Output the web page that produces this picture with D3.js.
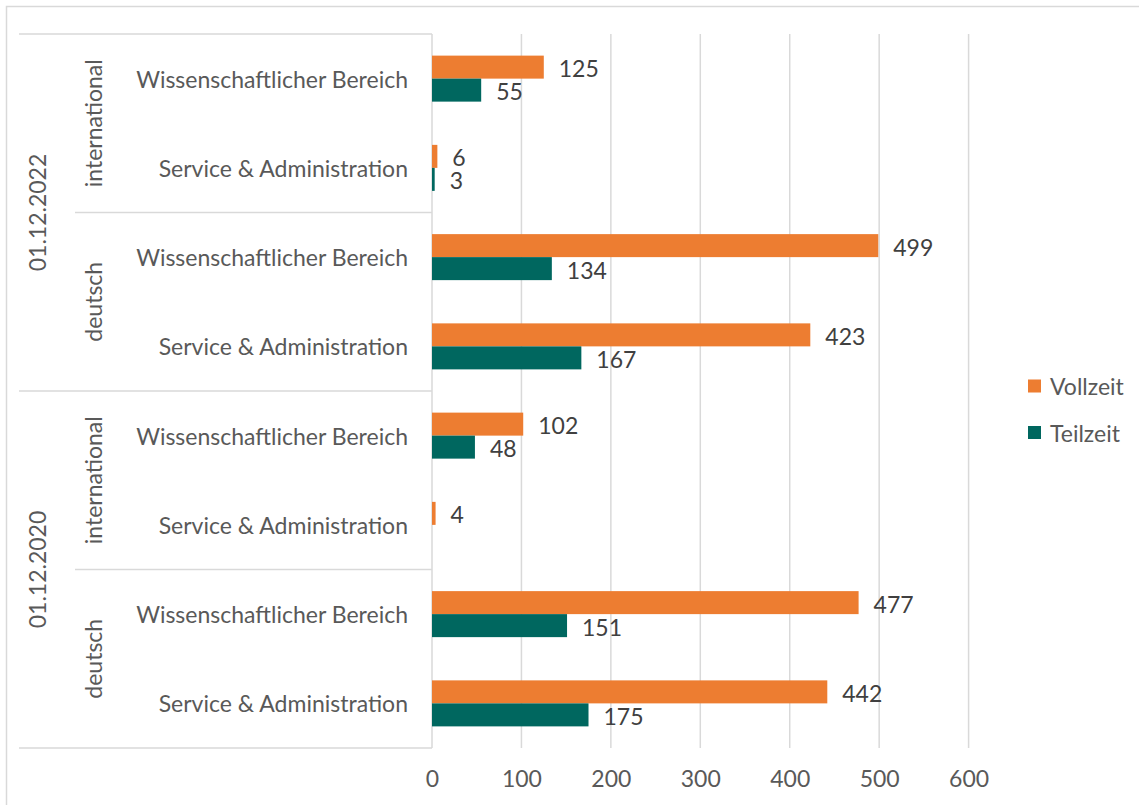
<!DOCTYPE html>
<html>
<head>
<meta charset="utf-8">
<script src="https://cdn.jsdelivr.net/npm/d3@7"></script>
<style>
  body { margin: 0; background: #fff; }
  text { font-family: Lato, "Noto Sans", sans-serif; }
</style>
</head>
<body>
<div id="chart"></div>
<script>
// data, top row first
var dates = ["01.12.2022", "01.12.2020"];
var origins = ["international", "deutsch"];
var areas = ["Wissenschaftlicher Bereich", "Service & Administration"];
var series = ["Vollzeit", "Teilzeit"];
var vollzeit = [125, 6, 499, 423, 102, 4, 477, 442];
var teilzeit = [55, 3, 134, 167, 48, null, 151, 175];
var xTicks = [0, 100, 200, 300, 400, 500, 600];

var width = 1139;
var height = 805;
var colors = {Vollzeit: "#ED7D31", Teilzeit: "#00675F"};
var grid = "#D9D9D9";
var labelColor = "#595959";
var fontSize = "23px";

// build rows: date > origin > area
var rows = [];
dates.forEach(function (d) {
    origins.forEach(function (o) {
        areas.forEach(function (a) {
            var i = rows.length;
            rows.push({id: i, date: d, origin: o, area: a, Vollzeit: vollzeit[i], Teilzeit: teilzeit[i]});
        });
    });
});

var svg = d3.select("#chart").
append("svg").
attr("width", width).
attr("height", height);

// chart border (only top and left are inside the picture)
svg.append("path").
attr("d", "M6.5," + height + "V6.5H" + width).
attr("fill", "none").
attr("stroke", grid).
attr("stroke-width", 1.5);

var x = d3.scaleLinear().domain([0, 600]).range([432, 968.6]);
var y = d3.scaleBand().domain(rows.map(function (r) {return r.id;})).range([34, 748]);
var ySub = d3.scaleBand().domain(series).range([0, y.bandwidth()]).paddingOuter(0.94);

// vertical gridlines
svg.append("g").
selectAll("line").
data(xTicks).
enter().
append("line").
attr("x1", function (d) {return x(d);}).
attr("x2", function (d) {return x(d);}).
attr("y1", 34).
attr("y2", 748).
attr("stroke", grid).
attr("stroke-width", 1.5);

// x axis labels
var xAxis = svg.append("g").
attr("transform", "translate(0,748)").
call(d3.axisBottom(x).tickValues(xTicks).tickSize(0).tickPadding(23));
xAxis.select(".domain").remove();
xAxis.selectAll("text").
attr("fill", labelColor).
style("font-size", fontSize).
style("font-family", "Lato, sans-serif");

// category separators
var groupEdges = [];
var step = y.step();
for (var i = 0; i <= rows.length; i += 2) {
    var yy = 34 + i * step;
    var isDateEdge = i % 4 === 0;
    groupEdges.push({y: yy, x0: isDateEdge ? 19 : 75});
}
svg.append("g").
selectAll("line").
data(groupEdges).
enter().
append("line").
attr("x1", function (d) {return d.x0;}).
attr("x2", 432).
attr("y1", function (d) {return d.y;}).
attr("y2", function (d) {return d.y;}).
attr("stroke", grid).
attr("stroke-width", 1.5);

// bars
var rowG = svg.append("g").
selectAll("g").
data(rows).
enter().
append("g").
attr("transform", function (r) {return "translate(0," + y(r.id) + ")";});

var barData = function (r) {
    return series.filter(function (s) {return r[s] != null;}).
    map(function (s) {return {key: s, value: r[s]};});
};

rowG.selectAll("rect").
data(barData).
enter().
append("rect").
attr("x", x(0)).
attr("y", function (d) {return ySub(d.key);}).
attr("width", function (d) {return x(d.value) - x(0);}).
attr("height", ySub.bandwidth()).
attr("fill", function (d) {return colors[d.key];});

rowG.selectAll("text.value").
data(barData).
enter().
append("text").
attr("class", "value").
attr("x", function (d) {return x(d.value) + 15;}).
attr("y", function (d) {return ySub(d.key) + ySub.bandwidth() / 2 + 1;}).
attr("dominant-baseline", "central").
attr("fill", "#404040").
style("font-size", fontSize).
text(function (d) {return d.value;});

// area labels
rowG.append("text").
attr("x", 408).
attr("y", y.bandwidth() / 2).
attr("text-anchor", "end").
attr("dominant-baseline", "central").
attr("fill", labelColor).
style("font-size", fontSize).
text(function (r) {return r.area;});

// origin labels (rotated)
var originGroups = [];
for (var j = 0; j < rows.length; j += 2) {
    originGroups.push({name: rows[j].origin, yc: 34 + (j + 1) * step});
}
svg.append("g").
selectAll("text").
data(originGroups).
enter().
append("text").
attr("transform", function (d) {return "translate(93," + d.yc + ") rotate(-90)";}).
attr("text-anchor", "middle").
attr("dominant-baseline", "central").
attr("fill", labelColor).
style("font-size", fontSize).
text(function (d) {return d.name;});

// date labels (rotated)
var dateGroups = dates.map(function (d, k) {return {name: d, yc: 34 + (k * 4 + 2) * step};});
svg.append("g").
selectAll("text").
data(dateGroups).
enter().
append("text").
attr("transform", function (d) {return "translate(37," + d.yc + ") rotate(-90)";}).
attr("text-anchor", "middle").
attr("dominant-baseline", "central").
attr("fill", labelColor).
style("font-size", fontSize).
text(function (d) {return d.name;});

// legend
var legend = svg.append("g").
selectAll("g").
data(series).
enter().
append("g").
attr("transform", function (d, k) {return "translate(1028," + (386 + k * 46.5) + ")";});

legend.append("rect").
attr("x", 0).
attr("y", -6.5).
attr("width", 13).
attr("height", 13).
attr("fill", function (d) {return colors[d];});

legend.append("text").
attr("x", 22).
attr("y", 0).
attr("dominant-baseline", "central").
attr("fill", labelColor).
style("font-size", fontSize).
text(function (d) {return d;});
</script>
</body>
</html>
